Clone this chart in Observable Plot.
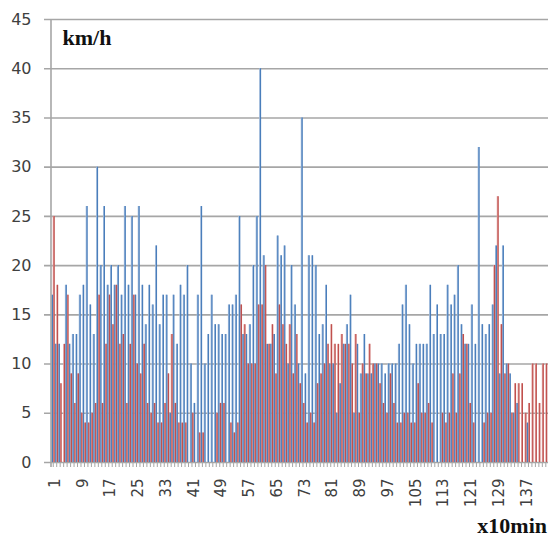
<!DOCTYPE html>
<html>
<head>
<meta charset="utf-8">
<script src="https://cdn.jsdelivr.net/npm/d3@7"></script>
<script src="https://cdn.jsdelivr.net/npm/@observablehq/plot@0.6"></script>
<style>
  html, body { margin: 0; padding: 0; background: #fff; }
  #chart { width: 548px; height: 537px; overflow: hidden; }
</style>
</head>
<body>
<div id="chart"></div>
<script>
// Categories (10-minute intervals)
const cats = [1,2,3,4,5,6,7,8,9,10,11,12,13,14,15,16,17,18,19,20,21,22,23,24,25,26,27,28,29,30,
  31,32,33,34,35,36,37,38,39,40,41,42,43,44,45,46,47,48,49,50,51,52,53,54,55,56,57,58,59,60,
  61,62,63,64,65,66,67,68,69,70,71,72,73,74,75,76,77,78,79,80,81,82,83,84,85,86,87,88,89,90,
  91,92,93,94,95,96,97,98,99,100,101,102,103,104,105,106,107,108,109,110,111,112,113,114,115,116,117,118,119,120,
  121,122,123,124,125,126,127,128,129,130,131,132,133,134,135,136,137,138,139,140,141,142,143,144];

// Blue series (km/h)
const blue = [17,12,12,0,18,12,13,13,17,18, 26,16,13,30,20,26,18,20,18,20,
  17,26,18,25,17,26,18,14,18,16, 22,14,17,17,5,17,12,18,17,20,
  10,6,17,26,10,13,17,14,14,13, 13,16,16,17,25,13,13,14,20,25,
  40,21,12,12,13,23,21,22,10,20, 16,10,35,9,21,21,20,13,14,18,
  10,10,5,8,12,14,17,5,12,9, 13,9,9,10,10,10,9,10,10,10,
  12,16,18,14,10,12,12,12,12,18, 13,16,13,13,18,16,17,20,14,12,
  12,16,12,32,14,13,14,16,22,9, 22,10,9,5,6,0,0,4,0,0, 0,0,0,0];

// Red series (km/h)
const red = [25,18,8,12,17,9,6,9,5,4, 4,5,6,17,6,12,17,14,18,12,
  13,6,12,17,10,9,12,6,5,6, 4,4,6,9,13,6,4,4,4,0,
  5,0,3,3,0,0,0,5,6,6, 0,4,3,4,16,14,10,10,10,16,
  16,20,12,14,9,16,14,12,14,9, 13,8,6,4,5,4,8,9,10,12,
  14,12,12,13,12,12,10,13,5,10, 9,12,10,10,8,6,5,9,6,4,
  4,5,5,4,4,8,5,5,6,4, 0,0,5,4,5,9,5,9,13,12,
  6,4,0,0,4,5,5,20,27,14, 9,10,5,8,8,8,5,6,10,10, 6,10,10,6];

// Y ticks and labelled categories
const yTicks = [0,5,10,15,20,25,30,35,40,45];
const xLabels = [1,9,17,25,33,41,49,57,65,73,81,89,97,105,113,121,129,137];

const data = cats.map((c, i) => ({cat: c, blue: blue[i], red: red[i]}));

const W = 548, H = 537, ML = 51, MR = -2.5;
const bw = (W - MR - ML) / cats.length;
const grid = "#a6a6a6";

const chart = Plot.plot({
  width: W, height: H,
  marginTop: 19, marginBottom: 75, marginLeft: ML, marginRight: MR,
  style: {background: "#fff", overflow: "visible"},
  x: {type: "band", domain: cats, padding: 0, axis: null},
  y: {domain: [0, 45], axis: null},
  marks: [
    Plot.gridY(yTicks, {stroke: grid, strokeOpacity: 1, strokeWidth: 1.6, insetLeft: -7}),
    Plot.barY(data, {x: "cat", y: "blue", fill: "#a9c1e0", insetRight: bw / 2}),
    Plot.barY(data, {x: "cat", y: "red", fill: "#e3a9a7", insetLeft: bw / 2}),
    Plot.ruleX(data.filter(d => d.blue > 0), {x: "cat", y: "blue", dx: -bw / 4, stroke: "#4a7ebb", strokeWidth: 1.25}),
    Plot.ruleX(data.filter(d => d.red > 0), {x: "cat", y: "red", dx: bw / 4, stroke: "#c0504d", strokeWidth: 1.25}),
    Plot.axisX(cats, {tickSize: 5, tickFormat: () => "", stroke: grid, strokeWidth: 1, label: null}),
    Plot.axisX(xLabels, {tickSize: 0, tickPadding: 16, rotate: -90, textAnchor: "end", dx: -4,
      fontSize: 15, fontFamily: "DejaVu Sans", fill: "#404040", label: null}),
    Plot.axisY(yTicks, {tickSize: 0, tickPadding: 20, fontSize: 16, fontFamily: "DejaVu Sans",
      fill: "#404040", label: null}),
    Plot.text(["km/h"], {frameAnchor: "top-left", dx: 11, dy: 25, text: d => d, textAnchor: "start",
      lineAnchor: "bottom", fontFamily: "Liberation Serif", fontWeight: "bold", fontSize: 22, fill: "#111"}),
    Plot.text(["x10min"], {frameAnchor: "bottom-right", dx: -4, dy: 70, text: d => d, textAnchor: "end",
      lineAnchor: "bottom", fontFamily: "Liberation Serif", fontWeight: "bold", fontSize: 22, fill: "#111"})
  ]
});

// left axis line
d3.select(chart).append("line")
  .attr("x1", ML).attr("x2", ML).attr("y1", 19).attr("y2", H - 75 + 5)
  .attr("stroke", grid).attr("stroke-width", 1.6);

document.getElementById("chart").append(chart);
</script>
</body>
</html>
